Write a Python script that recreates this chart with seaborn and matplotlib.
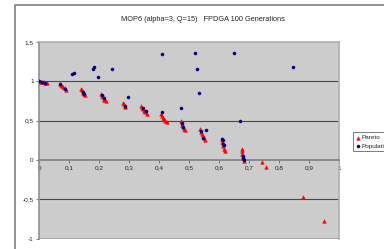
import numpy as np
import pandas as pd
import matplotlib
matplotlib.use("Agg")
import matplotlib.pyplot as plt
import seaborn as sns
from matplotlib.lines import Line2D

# Pareto front points (red triangles)
pareto_x = [0.0, 0.005, 0.01, 0.015, 0.02, 0.025,
            0.068, 0.072, 0.076, 0.08, 0.084, 0.088,
            0.138, 0.141, 0.144, 0.147, 0.15, 0.153,
            0.207, 0.209, 0.211, 0.214, 0.217, 0.221,
            0.278, 0.281, 0.284, 0.287,
            0.34, 0.343, 0.346, 0.349, 0.353, 0.358,
            0.407, 0.41, 0.413, 0.416, 0.42, 0.425,
            0.472, 0.474, 0.476, 0.479, 0.482, 0.487,
            0.536, 0.538, 0.541, 0.544, 0.548, 0.553,
            0.607, 0.609, 0.611, 0.613, 0.615, 0.618,
            0.674, 0.675, 0.676, 0.678, 0.68, 0.683,
            0.743, 0.756, 0.88, 0.947]
pareto_y = [1.0, 0.998, 0.995, 0.99, 0.985, 0.98,
            0.97, 0.955, 0.94, 0.925, 0.91, 0.895,
            0.9, 0.885, 0.87, 0.855, 0.84, 0.825,
            0.84, 0.82, 0.8, 0.78, 0.765, 0.75,
            0.73, 0.71, 0.69, 0.675,
            0.69, 0.665, 0.645, 0.625, 0.605, 0.585,
            0.585, 0.56, 0.54, 0.52, 0.5, 0.485,
            0.5, 0.475, 0.45, 0.425, 0.4, 0.38,
            0.39, 0.36, 0.33, 0.305, 0.28, 0.26,
            0.265, 0.235, 0.205, 0.175, 0.145, 0.12,
            0.14, 0.11, 0.08, 0.05, 0.02, -0.01,
            -0.02, -0.085, -0.47, -0.775]

# Population points (navy dots)
pop_x = [0.0, 0.01, 0.02, 0.07, 0.085, 0.145, 0.15, 0.21, 0.215, 0.285,
         0.345, 0.355, 0.475, 0.48, 0.54, 0.556, 0.545, 0.608, 0.612,
         0.612, 0.615, 0.677, 0.68, 0.683,
         0.108, 0.116, 0.18, 0.183, 0.197, 0.241, 0.295, 0.41, 0.41,
         0.472, 0.519, 0.527, 0.533, 0.649, 0.669, 0.845]
pop_y = [1.0, 0.995, 0.985, 0.97, 0.9, 0.86, 0.84, 0.83, 0.79, 0.69,
         0.66, 0.62, 0.47, 0.42, 0.37, 0.38, 0.28, 0.265, 0.26,
         0.2, 0.19, 0.05, 0.03, 0.0,
         1.094, 1.10, 1.157, 1.18, 1.05, 1.157, 0.805, 1.35, 0.61,
         0.66, 1.36, 1.157, 0.856, 1.36, 0.5, 1.18]

x_ticks = [0, 0.1, 0.2, 0.3, 0.4, 0.5, 0.6, 0.7, 0.8, 0.9, 1]
y_ticks = [-1, -0.5, 0, 0.5, 1, 1.5]

sns.set_style("white")
plt.rcParams['font.family'] = ['Liberation Sans', 'DejaVu Sans']

fig = plt.figure(figsize=(3.84, 2.49), dpi=100)
ax = fig.add_axes([0.1023, 0.0414, 0.7818, 0.7899])
ax.set_facecolor('#cccccc')

# gridlines and plot-area frame
for g in [1, 0.5, -0.5]:
    ax.axhline(g, color='#484848', lw=0.8, zorder=1)
ax.axhline(-1, color='#a0a0a0', lw=1.2, zorder=1)

pareto = pd.DataFrame({'x': pareto_x, 'y': pareto_y})
pop = pd.DataFrame({'x': pop_x, 'y': pop_y})
sns.scatterplot(data=pareto, x='x', y='y', marker='^', color='red', s=7,
                edgecolor='red', linewidth=0.3, ax=ax, label='Pareto', zorder=3)
sns.scatterplot(data=pop, x='x', y='y', marker='o', color='#000080', s=5,
                edgecolor='#000080', linewidth=0.3, ax=ax, label='Population', zorder=4)

ax.set_xlim(0, 1)
ax.set_ylim(-1, 1.5)
ax.set_xticks(x_ticks)
ax.set_yticks(y_ticks)
fmt = lambda v: ('%g' % v).replace('.', ',')
ax.set_xticklabels([fmt(v) for v in x_ticks])
ax.set_yticklabels([fmt(v) for v in y_ticks])
ax.set_xlabel('')
ax.set_ylabel('')

ax.spines['bottom'].set_position(('data', 0))
ax.spines['bottom'].set_color('#808080')
ax.spines['left'].set_color('#909090')
ax.spines['top'].set_color('#b0b0b0')
ax.spines['right'].set_color('#b0b0b0')
for s in ax.spines.values():
    s.set_linewidth(1.2)
ax.tick_params(axis='both', labelsize=4.6, length=2, width=0.6, color='#606060',
               pad=2, direction='out', bottom=True, left=True)

leg = ax.legend(loc='upper left', bbox_to_anchor=(0.911, 0.482),
                bbox_transform=fig.transFigure, fontsize=4.6, frameon=True,
                fancybox=False, edgecolor='#404040', borderpad=0.4,
                handletextpad=0.1, handlelength=0.8, labelspacing=0.5,
                markerscale=1.0)
leg.get_frame().set_linewidth(0.6)

fig.text(0.529, 0.92, 'MOP6 (alpha=3, Q=15)   FPDGA 100 Generations',
         ha='center', va='center', fontsize=5.3)

# chart-area border
fig.add_artist(Line2D([15 / 384, 15 / 384, 1.0], [0.0, 1 - 5 / 249, 1 - 5 / 249],
                      transform=fig.transFigure, color='#808080', lw=1.2))

fig.savefig('out.png', dpi=100)
